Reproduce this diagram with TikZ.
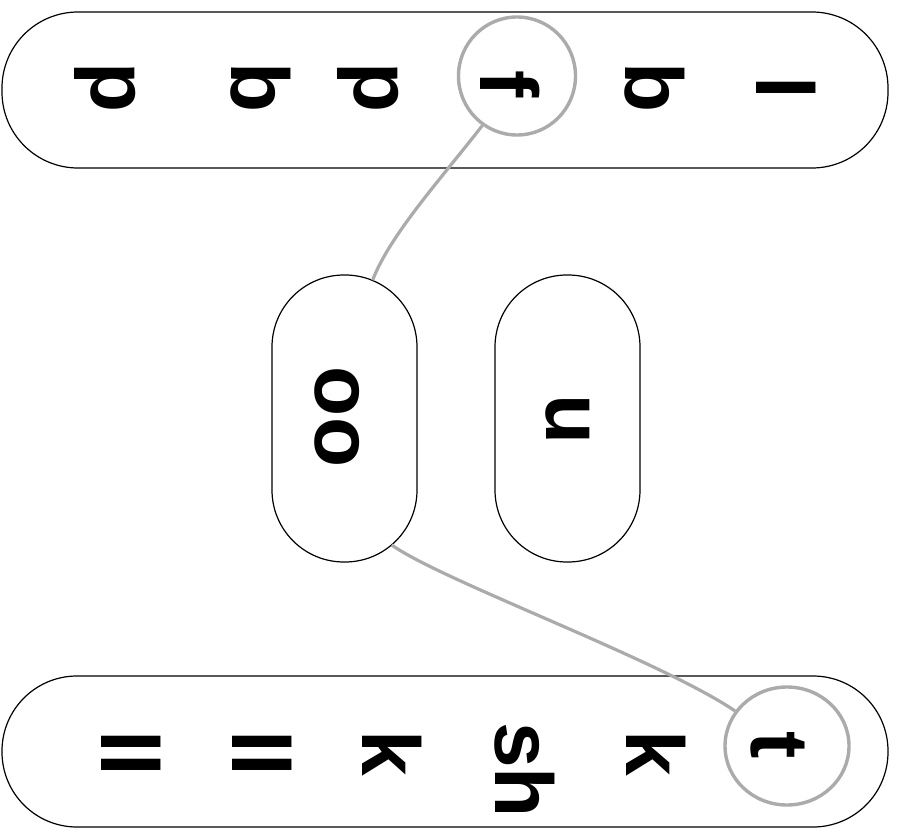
\documentclass[tikz,border=0pt]{standalone}
\usepackage{fontspec}
\setmainfont{Liberation Sans}
\usetikzlibrary{calc,shapes.geometric}
\begin{document}
\begin{tikzpicture}[x=1pt,y=-1pt,
  pill/.style={draw=black, line width=1.2pt, rounded corners=#1, inner sep=0pt},
  glyph/.style={rotate=-90, inner sep=0pt, font=\fontsize{82}{90}\selectfont\bfseries},
  ring/.style={ellipse, draw=black!33, line width=3.4pt, inner sep=0pt},
  link/.style={draw=black!33, line width=3.2pt}]
\useasboundingbox[fill=white] (0,0) rectangle (899,829);
% pills
\node[pill=76pt, minimum width=886pt, minimum height=156pt] (onset) at (445,90) {};
\node[pill=75pt, minimum width=886pt, minimum height=151pt] (coda) at (445,751.5) {};
\node[pill=72pt, minimum width=145pt, minimum height=287pt] (ooP) at (344.5,418.5) {};
\node[pill=72pt, minimum width=145pt, minimum height=287pt] (uP) at (567.5,418.5) {};
% onset letters
\node[glyph] (on1) at (105,88) {p};
\node[glyph] (on2) at (261,88) {b};
\node[glyph] (on3) at (368,88) {p};
\node[glyph] (on4) at (510,84) {f};
\node[glyph] (on5) at (655,88) {b};
\node[glyph] (on6) at (786,88) {l};
% vowels
\node[glyph] (oo) at (337,417) {oo};
\node[glyph] (u) at (568,420) {u};
% coda letters
\node[glyph] (co1) at (131,753) {ll};
\node[glyph] (co2) at (262,753) {ll};
\node[glyph] (co3) at (392,753) {k};
\node[glyph] (co4) at (525,770) {sh};
\node[glyph] (co5) at (656,753) {k};
\node[glyph] (co6) at (778,745) {t};
% rings
\node[ring, minimum width=117pt, minimum height=118pt] (fring) at (517,76) {};
\node[ring, minimum width=124pt, minimum height=118pt] (tring) at (787,746) {};
% contact points on the oo pill
\coordinate (ooTopArc) at ($(ooP.north)+(0,72)$);
\coordinate (ooIn) at ($(ooTopArc)+(-67:72)$);
\coordinate (ooBotArc) at ($(ooP.south)+(0,-72)$);
\coordinate (ooOut) at ($(ooBotArc)+(49:72)$);
% connectors
\draw[link] (fring.235) .. controls (440,180) and (390,235) .. (ooIn);
\draw[link] (ooOut) .. controls (440,580) and (660,660) .. (tring.146);
\end{tikzpicture}
\end{document}
